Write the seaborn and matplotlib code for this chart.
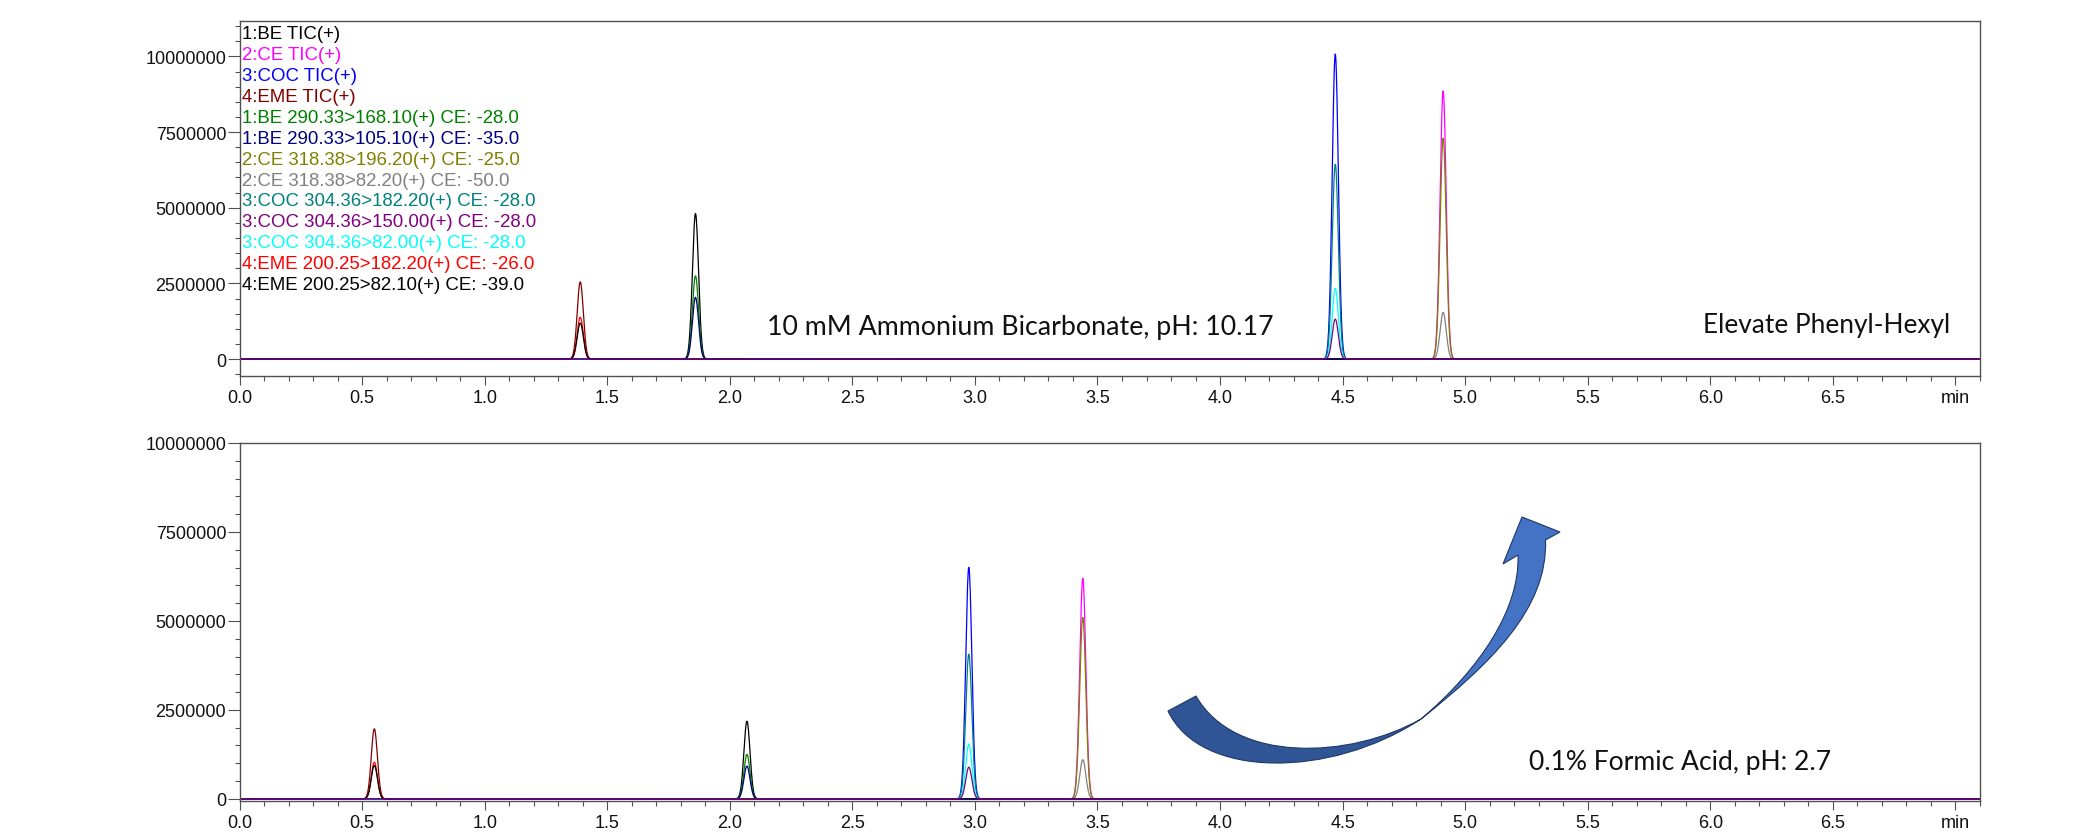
import numpy as np
import pandas as pd
import matplotlib
matplotlib.use("Agg")
import matplotlib.pyplot as plt
import seaborn as sns
from matplotlib.ticker import MultipleLocator, FixedLocator, FixedFormatter
from matplotlib.patches import PathPatch
from matplotlib.path import Path

# ---------------- data ----------------
trace_names = [
    "1:BE TIC(+)",
    "2:CE TIC(+)",
    "3:COC TIC(+)",
    "4:EME TIC(+)",
    "1:BE 290.33>168.10(+) CE: -28.0",
    "1:BE 290.33>105.10(+) CE: -35.0",
    "2:CE 318.38>196.20(+) CE: -25.0",
    "2:CE 318.38>82.20(+) CE: -50.0",
    "3:COC 304.36>182.20(+) CE: -28.0",
    "3:COC 304.36>150.00(+) CE: -28.0",
    "3:COC 304.36>82.00(+) CE: -28.0",
    "4:EME 200.25>182.20(+) CE: -26.0",
    "4:EME 200.25>82.10(+) CE: -39.0",
]
trace_colors = ["#000000", "#FF00FF", "#0000FF", "#800000", "#008000", "#000080",
                "#808000", "#808080", "#008080", "#800080", "#00FFFF", "#FF0000", "#000000"]
trace_compound = ["BE", "CE", "COC", "EME", "BE", "BE", "CE", "CE", "COC", "COC", "COC", "EME", "EME"]

compounds = ["BE", "CE", "COC", "EME"]
rt_high_ph = [1.86, 4.91, 4.47, 1.39]     # min, 10 mM ammonium bicarbonate
rt_low_ph = [2.07, 3.44, 2.975, 0.55]     # min, 0.1% formic acid

height_high_ph = [4810000, 8860000, 10080000, 2550000, 2750000, 2040000,
                  7300000, 1540000, 6440000, 1320000, 2340000, 1380000, 1190000]
height_low_ph = [2180000, 6200000, 6510000, 1970000, 1250000, 920000,
                 5100000, 1100000, 4070000, 890000, 1540000, 1030000, 940000]
peak_sigma = 0.0125

x_ticks = [0.0, 0.5, 1.0, 1.5, 2.0, 2.5, 3.0, 3.5, 4.0, 4.5, 5.0, 5.5, 6.0, 6.5, 7.0]
x_tick_labels = ["0.0", "0.5", "1.0", "1.5", "2.0", "2.5", "3.0", "3.5", "4.0", "4.5",
                 "5.0", "5.5", "6.0", "6.5", "min"]
y_ticks = [0, 2500000, 5000000, 7500000, 10000000]
y_tick_labels = ["0", "2500000", "5000000", "7500000", "10000000"]

label_high = "10 mM Ammonium Bicarbonate, pH: 10.17"
label_column = "Elevate Phenyl-Hexyl"
label_low = "0.1% Formic Acid, pH: 2.7"

# ---------------- build traces ----------------
time = np.linspace(0, 7.1, 5000)


def build(rts, heights):
    rt_map = dict(zip(compounds, rts))
    frames = []
    for name, comp, h in zip(trace_names, trace_compound, heights):
        y = h * np.exp(-0.5 * ((time - rt_map[comp]) / peak_sigma) ** 2)
        frames.append(pd.DataFrame({"time": time, "intensity": y, "trace": name}))
    return pd.concat(frames, ignore_index=True)


df_high = build(rt_high_ph, height_high_ph)
df_low = build(rt_low_ph, height_low_ph)

palette = dict(zip(trace_names, trace_colors))
draw_order = [n for n in trace_names if n not in (trace_names[5], trace_names[9])] + [trace_names[5], trace_names[9]]

# ---------------- figure ----------------
sns.set_theme(style="white")
plt.rcParams["font.family"] = ["Liberation Sans", "DejaVu Sans"]

W, H = 2078, 837
fig = plt.figure(figsize=(W / 100, H / 100), dpi=100)
fig.patch.set_facecolor("white")

ax1 = fig.add_axes([0.11526, 0.54994, 0.83758, 0.42413])
ax2 = fig.add_axes([0.11526, 0.04182, 0.83758, 0.42772])

for ax, df in ((ax1, df_high), (ax2, df_low)):
    sns.lineplot(data=df, x="time", y="intensity", hue="trace", hue_order=draw_order,
                 palette=palette, estimator=None, legend=False, linewidth=0.9, ax=ax)

ax1.set_ylim(-550000, 11180000)
ax2.set_ylim(-60000, 10000000)

spine_col = "#505050"
for ax in (ax1, ax2):
    ax.set_xlim(0, 7.1)
    ax.set_xlabel("")
    ax.set_ylabel("")
    ax.set_facecolor("white")
    ax.xaxis.set_major_locator(FixedLocator(x_ticks))
    ax.xaxis.set_major_formatter(FixedFormatter(x_tick_labels))
    ax.xaxis.set_minor_locator(MultipleLocator(0.1))
    ax.yaxis.set_major_locator(FixedLocator(y_ticks))
    ax.yaxis.set_major_formatter(FixedFormatter(y_tick_labels))
    ax.yaxis.set_minor_locator(MultipleLocator(500000))
    ax.tick_params(axis="x", which="major", direction="out", length=6.5, width=0.8,
                   color=spine_col, pad=3, labelsize=13, labelcolor="#111111",
                   bottom=True, top=False)
    ax.tick_params(axis="x", which="minor", direction="out", length=3.6, width=0.8,
                   color=spine_col, bottom=True, top=False)
    ax.tick_params(axis="y", which="major", direction="out", length=8.6, width=0.8,
                   color=spine_col, pad=1, labelsize=13, labelcolor="#111111",
                   left=True, right=False)
    ax.tick_params(axis="y", which="minor", direction="out", length=3.6, width=0.8,
                   color=spine_col, left=True, right=False)
    for s in ax.spines.values():
        s.set_visible(True)
        s.set_color(spine_col)
        s.set_linewidth(1.0)
    ax.grid(False)

renderer = fig.canvas.get_renderer()


def fit_width(t, target_px):
    w = t.get_window_extent(renderer).width
    t.set_fontsize(t.get_fontsize() * target_px / w)


def fx(x):
    return x / W


def fy(y):
    return 1 - y / H


# legend-like trace labels
leg_texts = []
for i, (name, col) in enumerate(zip(trace_names, trace_colors)):
    t = fig.text(fx(241.5), fy(39.3 + 20.9 * i), name, color=col, fontsize=13.3,
                 ha="left", va="baseline")
    leg_texts.append(t)
fit_width(leg_texts[4], 277)
for t in leg_texts:
    t.set_fontsize(leg_texts[4].get_fontsize())

# condition annotations
t1 = fig.text(fx(767), fy(335), label_high, fontsize=19, family=["Lato", "DejaVu Sans"],
              ha="left", va="baseline", color="#111111")
fit_width(t1, 507)
t2 = fig.text(fx(1703), fy(333), label_column, fontsize=19, family=["Lato", "DejaVu Sans"],
              ha="left", va="baseline", color="#111111")
fit_width(t2, 247)
t3 = fig.text(fx(1529), fy(770), label_low, fontsize=19, family=["Lato", "DejaVu Sans"],
              ha="left", va="baseline", color="#111111")
fit_width(t3, 302)

# curved block arrow (decoration)
def P(x, y):
    return (fx(x), fy(y))


lower_verts = [P(1168, 712), P(1200, 780), P(1330, 780), P(1421, 720),
               P(1350, 760), P(1235, 765), P(1196, 697), P(1168, 712)]
lower_codes = [Path.MOVETO, Path.CURVE4, Path.CURVE4, Path.CURVE4,
               Path.CURVE4, Path.CURVE4, Path.CURVE4, Path.CLOSEPOLY]
upper_verts = [P(1421, 720), P(1490, 665), P(1548, 610), P(1545.5, 541),
               P(1560, 533), P(1522, 518), P(1503, 565), P(1518, 556),
               P(1520, 610), P(1480, 670), P(1421, 720), P(1421, 720)]
upper_codes = [Path.MOVETO, Path.CURVE4, Path.CURVE4, Path.CURVE4,
               Path.LINETO, Path.LINETO, Path.LINETO, Path.LINETO,
               Path.CURVE4, Path.CURVE4, Path.CURVE4, Path.CLOSEPOLY]
fig.patches.append(PathPatch(Path(upper_verts, upper_codes), transform=fig.transFigure,
                             facecolor="#4472C4", edgecolor="#1F3864", linewidth=0.8))
fig.patches.append(PathPatch(Path(lower_verts, lower_codes), transform=fig.transFigure,
                             facecolor="#2F5597", edgecolor="#1F3864", linewidth=0.8))

fig.savefig("out.png", dpi=100, facecolor="white")
